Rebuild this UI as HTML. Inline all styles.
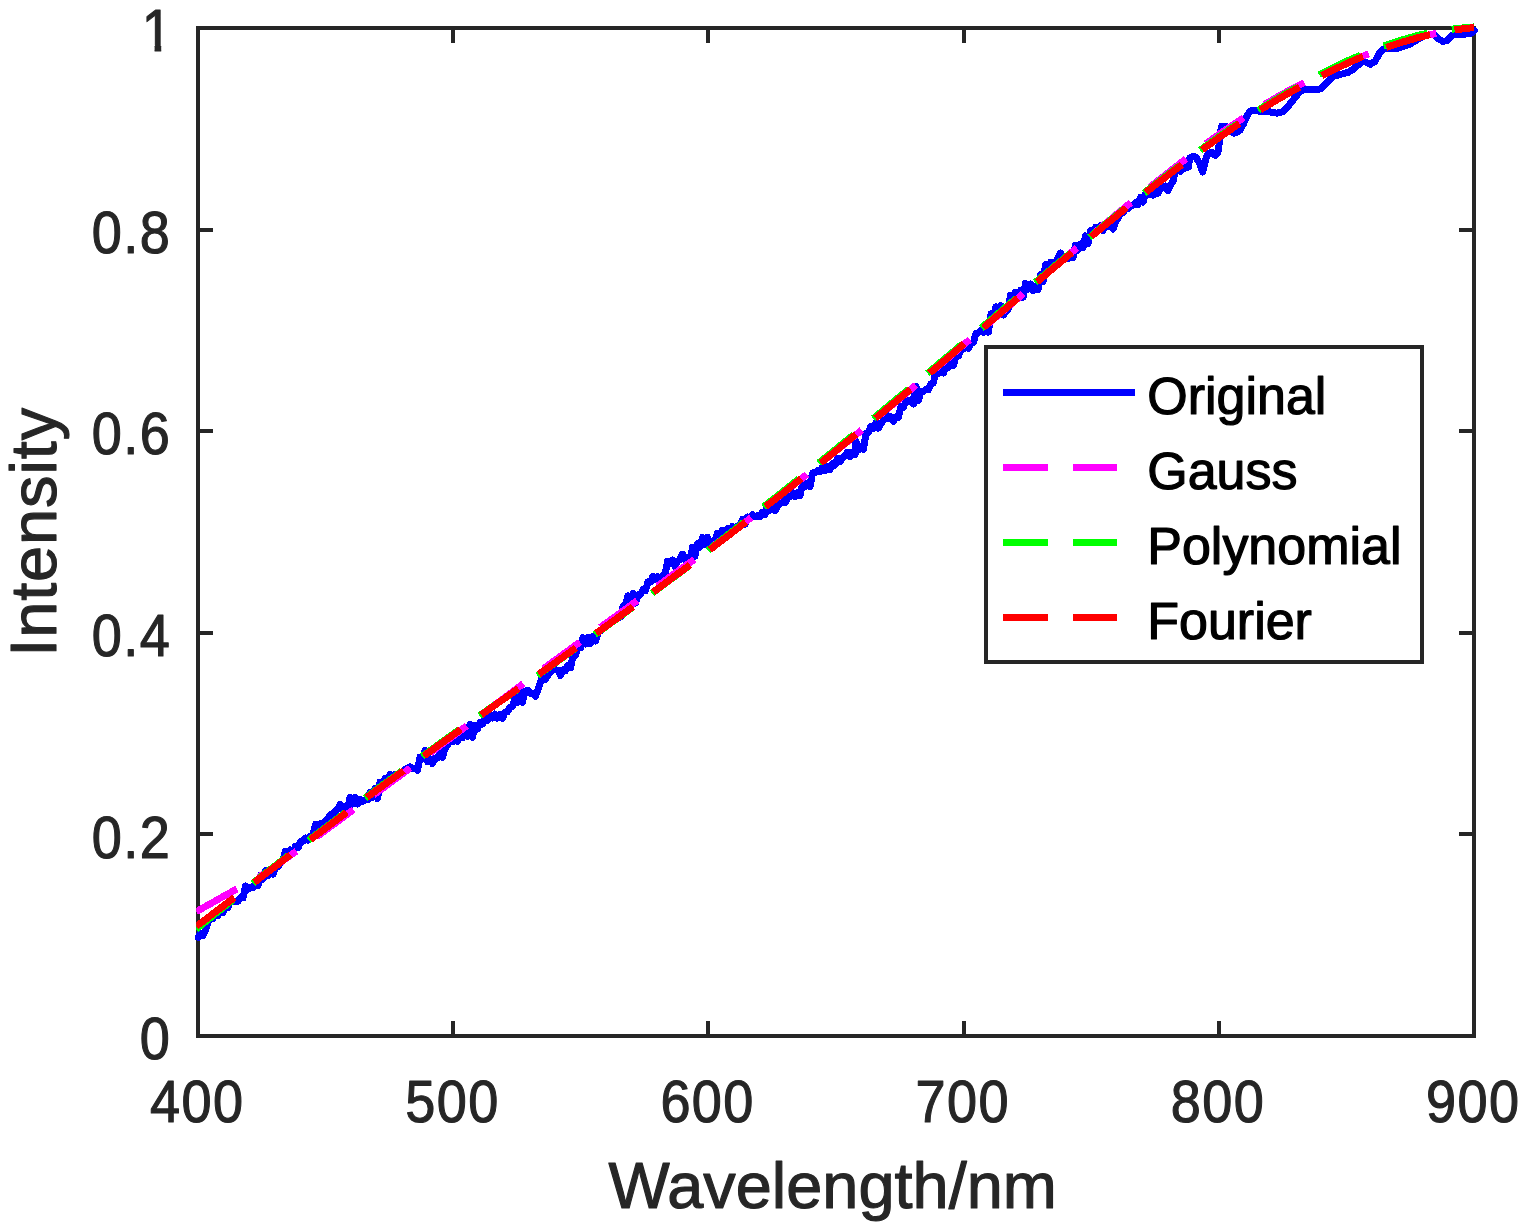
<!DOCTYPE html>
<html lang="en">
<head>
<meta charset="utf-8">
<title>Intensity vs Wavelength</title>
<style>
html,body{margin:0;padding:0;background:#fff;}
body{width:1524px;height:1230px;overflow:hidden;position:relative;font-family:"Liberation Sans",sans-serif;}
</style>
</head>
<body>
<svg width="1524" height="1230" viewBox="0 0 1524 1230" style="position:absolute;left:0;top:0;display:block">
<rect x="0" y="0" width="1524" height="1230" fill="#fff"/>
<g shape-rendering="crispEdges" fill="none" stroke="#262626" stroke-width="4">
<rect x="198.0" y="28.0" width="1276.0" height="1008.0"/>
<path d="M453.2 1036.0 V1021.0 M453.2 28.0 V43.0 M708.4 1036.0 V1021.0 M708.4 28.0 V43.0 M963.6 1036.0 V1021.0 M963.6 28.0 V43.0 M1218.8 1036.0 V1021.0 M1218.8 28.0 V43.0 M198.0 834.4 H213.0 M1474.0 834.4 H1459.0 M198.0 632.8 H213.0 M1474.0 632.8 H1459.0 M198.0 431.2 H213.0 M1474.0 431.2 H1459.0 M198.0 229.6 H213.0 M1474.0 229.6 H1459.0"/>
</g>
<clipPath id="cl"><rect x="196.2" y="0" width="1290" height="1100"/></clipPath>
<clipPath id="clb"><rect x="195" y="0" width="1290" height="1100"/></clipPath>
<g shape-rendering="crispEdges" fill="none" stroke-width="7" stroke-linejoin="round" clip-path="url(#clb)">
<path d="M198.0 937.3 L200.5 933.2 L203.0 935.6 L205.5 930.0 L208.0 922.4 L210.5 916.5 L213.0 918.6 L215.5 912.7 L218.0 915.4 L220.5 910.5 L223.0 912.7 L225.5 906.3 L228.0 907.3 L230.5 901.1 L233.0 901.6 L235.5 901.8 L238.0 901.2 L240.5 897.7 L243.0 898.0 L245.5 886.0 L248.0 889.3 L250.5 887.4 L253.0 887.9 L255.5 883.1 L258.0 885.4 L260.5 875.3 L263.0 879.1 L265.5 870.7 L268.0 875.4 L270.5 870.5 L273.0 874.2 L275.5 867.8 L278.0 866.8 L280.5 862.4 L283.0 860.0 L285.5 851.1 L288.0 854.5 L290.5 849.9 L293.0 852.3 L295.5 846.2 L298.0 847.9 L300.5 841.5 L303.0 841.3 L305.5 838.0 L308.0 840.0 L310.5 836.0 L313.0 835.4 L315.5 824.2 L318.0 827.7 L320.5 823.8 L323.0 828.5 L325.5 821.3 L328.0 819.0 L330.5 814.5 L333.0 818.0 L335.0 811.0 L337.5 809.5 L340.0 804.4 L342.5 808.6 L345.0 806.6 L347.5 808.9 L350.0 797.5 L352.5 804.0 L355.0 797.1 L357.5 804.0 L360.0 799.4 L362.5 801.5 L365.0 799.7 L367.5 800.0 L370.0 792.4 L372.5 797.2 L375.0 788.1 L377.5 798.7 L380.0 782.2 L382.5 784.9 L385.0 778.6 L387.5 780.1 L390.0 774.5 L392.5 778.2 L395.0 774.4 L397.5 774.5 L400.0 773.3 L402.5 771.4 L405.0 769.6 L407.5 768.4 L410.0 766.7 L412.5 768.2 L415.0 768.0 L417.5 770.3 L420.0 757.1 L422.5 758.4 L425.0 750.5 L427.5 761.9 L430.0 758.8 L432.5 763.6 L435.0 758.5 L437.5 758.0 L440.0 753.7 L442.5 757.5 L445.0 748.4 L447.5 745.0 L450.0 739.2 L452.5 741.7 L455.0 738.4 L457.5 741.4 L460.0 735.4 L462.5 737.7 L465.0 732.5 L467.5 736.2 L470.0 724.4 L472.5 737.3 L475.0 725.2 L477.5 728.9 L480.0 722.2 L482.5 723.9 L485.0 718.6 L487.5 720.3 L490.0 714.0 L492.5 718.0 L495.0 714.1 L497.5 718.1 L500.0 714.2 L502.5 718.2 L505.0 712.1 L507.5 711.7 L510.0 707.2 L512.5 706.3 L515.0 698.8 L517.5 702.6 L520.0 689.5 L522.5 702.3 L525.0 691.0 L527.5 690.9 L528.0 690.5 L530.5 693.7 L533.0 693.4 L535.5 696.4 L538.0 689.2 L540.5 682.2 L543.0 675.4 L545.5 679.4 L548.0 675.0 L550.5 672.3 L553.0 666.4 L555.5 669.9 L558.0 670.5 L560.5 675.6 L563.0 669.8 L565.5 670.8 L568.0 665.2 L570.5 667.8 L573.0 655.4 L575.5 655.5 L578.0 646.2 L580.5 647.7 L583.0 637.6 L585.5 644.0 L588.0 637.3 L590.5 643.6 L593.0 636.3 L595.5 640.9 L598.0 632.9 L600.5 630.7 L603.0 628.7 L605.5 626.6 L608.0 624.8 L610.5 623.0 L613.0 621.2 L615.5 620.1 L618.0 614.4 L620.5 616.9 L623.0 606.3 L625.5 604.1 L628.0 595.8 L630.5 597.8 L633.0 593.5 L635.5 603.1 L638.0 594.8 L640.5 594.4 L643.0 589.5 L645.5 590.7 L648.0 581.8 L650.5 582.1 L653.0 576.1 L655.5 579.6 L658.0 576.7 L660.5 580.5 L663.0 575.5 L665.0 574.7 L667.5 561.4 L670.0 563.4 L672.5 560.0 L675.0 566.4 L677.5 561.2 L680.0 559.4 L682.5 554.2 L685.0 559.4 L687.5 557.7 L690.0 563.0 L692.5 547.5 L695.0 556.2 L697.5 543.6 L700.0 547.0 L702.5 537.5 L705.0 544.4 L707.5 537.2 L710.0 543.3 L712.5 541.8 L715.0 540.1 L717.5 533.1 L720.0 535.0 L722.5 530.2 L725.0 533.5 L727.5 528.7 L730.0 531.7 L732.5 526.4 L735.0 529.9 L737.5 525.9 L740.0 525.5 L742.5 519.2 L745.0 524.2 L747.5 517.0 L750.0 518.3 L752.5 514.8 L755.0 517.0 L757.5 515.5 L760.0 516.5 L762.5 512.3 L765.0 514.4 L767.5 504.5 L770.0 510.3 L772.5 506.8 L775.0 510.7 L777.5 505.7 L780.0 503.2 L782.5 498.8 L785.0 502.8 L787.5 498.0 L790.0 496.4 L792.5 492.4 L795.0 496.5 L797.5 492.6 L800.0 495.7 L802.5 484.1 L805.0 486.9 L807.5 483.0 L810.0 486.8 L812.5 473.1 L815.0 472.5 L817.5 470.7 L820.0 471.4 L822.5 467.0 L825.0 470.6 L827.5 466.2 L830.0 469.4 L832.5 463.9 L835.0 465.1 L837.5 458.2 L840.0 461.9 L842.5 457.4 L845.0 455.8 L847.5 452.2 L850.0 456.7 L852.5 452.4 L855.0 454.7 L856.0 441.4 L858.5 449.7 L861.0 446.7 L863.5 449.3 L866.0 433.3 L868.5 432.2 L871.0 426.2 L873.5 428.3 L876.0 422.4 L878.5 428.1 L881.0 423.5 L883.5 420.0 L886.0 413.7 L888.5 418.7 L891.0 417.0 L893.5 421.5 L896.0 416.8 L898.5 417.3 L901.0 406.3 L903.5 407.2 L906.0 400.6 L908.5 401.4 L911.0 399.9 L913.5 403.9 L916.0 386.5 L918.5 400.4 L921.0 391.5 L923.5 391.2 L926.0 389.3 L928.5 389.8 L931.0 383.7 L933.5 382.8 L936.0 369.4 L938.5 373.6 L941.0 369.7 L943.5 372.9 L946.0 367.2 L948.5 367.5 L951.0 363.1 L953.5 365.3 L956.0 356.3 L958.5 356.0 L961.0 347.9 L963.5 349.1 L966.0 345.1 L968.5 348.6 L971.0 343.2 L973.5 342.3 L976.0 333.4 L978.5 332.6 L981.0 330.5 L983.5 332.5 L986.0 328.3 L988.5 332.1 L991.0 313.9 L993.5 317.3 L996.0 306.7 L998.5 309.1 L1001.0 305.7 L1003.5 315.1 L1006.0 311.5 L1008.0 309.6 L1010.5 295.1 L1013.0 296.3 L1015.5 292.3 L1018.0 297.5 L1020.5 290.2 L1023.0 297.4 L1025.5 283.4 L1028.0 289.1 L1030.5 284.0 L1033.0 290.8 L1035.5 286.6 L1038.0 289.5 L1040.5 274.7 L1043.0 281.9 L1045.5 264.6 L1048.0 266.8 L1050.5 262.3 L1053.0 267.9 L1055.5 262.2 L1058.0 258.1 L1060.5 253.0 L1063.0 258.2 L1065.5 257.7 L1068.0 258.4 L1070.5 254.4 L1073.0 257.4 L1075.5 245.3 L1078.0 250.0 L1080.5 244.0 L1083.0 247.6 L1085.5 235.9 L1088.0 243.6 L1090.5 230.8 L1093.0 234.6 L1095.5 227.4 L1098.0 230.6 L1100.5 225.6 L1103.0 230.8 L1105.5 225.3 L1108.0 226.8 L1110.5 225.4 L1113.0 229.0 L1115.5 221.7 L1118.0 218.0 L1120.5 213.1 L1123.0 212.8 L1125.5 209.1 L1128.0 208.9 L1130.5 205.1 L1133.0 205.2 L1135.5 202.7 L1138.0 204.5 L1140.5 197.4 L1143.0 202.1 L1145.5 193.3 L1148.0 194.3 L1150.5 191.3 L1153.0 195.2 L1155.5 190.7 L1158.0 193.3 L1160.5 187.5 L1163.0 188.0 L1165.5 186.1 L1168.0 190.6 L1170.5 184.8 L1173.0 181.6 L1175.5 170.4 L1178.0 169.9 L1180.5 166.3 L1180.5 171.2 L1184.4 168.0 L1188.4 167.3 L1189.7 158.1 L1193.0 156.1 L1196.2 157.5 L1199.5 163.4 L1202.8 171.9 L1206.1 158.1 L1208.1 153.5 L1212.0 152.2 L1215.3 155.5 L1217.9 152.9 L1219.2 143.7 L1220.5 131.9 L1221.8 126.0 L1225.1 126.0 L1228.4 129.2 L1234.3 133.2 L1239.6 130.6 L1243.5 124.0 L1246.8 116.1 L1250.1 110.9 L1255.3 110.6 L1261.9 111.5 L1269.7 111.9 L1277.0 113.2 L1282.9 111.5 L1288.1 106.3 L1293.4 99.7 L1298.6 93.1 L1302.5 89.9 L1309.1 89.2 L1317.0 89.6 L1320.9 88.6 L1327.5 82.0 L1334.0 76.1 L1340.6 74.4 L1348.5 72.2 L1353.7 68.9 L1359.0 64.3 L1362.3 61.0 L1364.3 61.4 L1370.2 64.4 L1374.9 61.4 L1379.6 53.1 L1383.1 49.0 L1386.7 48.7 L1396.1 48.7 L1410.3 43.9 L1422.1 36.9 L1430.4 34.3 L1433.9 34.3 L1438.7 39.0 L1442.8 41.3 L1446.9 40.7 L1451.7 35.4 L1455.2 34.3 L1463.5 34.3 L1471.7 33.1 L1474.3 30.5" stroke="#0000ff" stroke-linecap="round"/>
</g>
<g shape-rendering="crispEdges" fill="none" stroke-width="7" stroke-linejoin="round" clip-path="url(#cl)">
<path d="M196.2 911.7 L198.0 910.7 L203.1 907.8 L208.2 904.9 L213.3 902.1 L218.4 899.2 L223.5 896.4 L228.6 893.5 L233.7 890.6 L238.8 887.9 L243.9 885.3 L249.0 882.8 L254.1 879.9 L259.2 876.8 L264.4 873.5 L269.5 870.1 L274.6 866.6 L279.7 863.0 L284.8 859.3 L289.9 855.7 L295.0 852.1 L300.1 848.6 L305.2 845.1 L310.3 841.5 L315.4 837.7 L320.5 834.0 L325.6 830.2 L330.7 826.4 L335.8 822.7 L340.9 818.9 L346.0 815.1 L351.1 811.4 L356.2 807.7 L361.3 803.9 L366.4 800.2 L371.5 796.5 L376.6 792.8 L381.7 789.0 L386.8 785.3 L392.0 781.5 L397.1 777.7 L402.2 773.9 L407.3 770.1 L412.4 766.2 L417.5 762.4 L422.6 758.6 L427.7 754.8 L432.8 751.1 L437.9 747.3 L443.0 743.5 L448.1 739.7 L453.2 735.9 L458.3 732.2 L463.4 728.4 L468.5 724.5 L473.6 720.7 L478.7 716.9 L483.8 713.1 L488.9 709.3 L494.0 705.5 L499.1 701.7 L504.2 697.9 L509.3 694.1 L514.4 690.3 L519.6 686.5 L524.7 682.7 L529.8 678.9 L534.9 675.1 L540.0 671.2 L545.1 667.5 L550.2 663.7 L555.3 660.0 L560.4 656.3 L565.5 652.6 L570.6 648.9 L575.7 645.2 L580.8 641.5 L585.9 637.8 L591.0 634.1 L596.1 630.4 L601.2 626.7 L606.3 623.1 L611.4 619.4 L616.5 615.7 L621.6 612.0 L626.7 608.3 L631.8 604.6 L636.9 600.9 L642.0 597.2 L647.2 593.5 L652.3 589.8 L657.4 586.1 L662.5 582.4 L667.6 578.6 L672.7 574.9 L677.8 571.2 L682.9 567.6 L688.0 564.0 L693.1 560.4 L698.2 556.7 L703.3 553.1 L708.4 549.4 L713.5 545.7 L718.6 542.0 L723.7 538.2 L728.8 534.5 L733.9 530.7 L739.0 526.9 L744.1 523.0 L749.2 519.1 L754.3 515.2 L759.4 511.3 L764.5 507.4 L769.6 503.5 L774.8 499.6 L779.9 495.6 L785.0 491.6 L790.1 487.6 L795.2 483.6 L800.3 479.6 L805.4 475.6 L810.5 471.5 L815.6 467.4 L820.7 463.4 L825.8 459.3 L830.9 455.1 L836.0 451.0 L841.1 446.9 L846.2 442.7 L851.3 438.6 L856.4 434.4 L861.5 430.2 L866.6 426.1 L871.7 421.9 L876.8 417.6 L881.9 413.4 L887.0 409.2 L892.1 405.0 L897.2 400.7 L902.4 396.5 L907.5 392.2 L912.6 387.9 L917.7 383.6 L922.8 379.3 L927.9 375.0 L933.0 370.7 L938.1 366.4 L943.2 362.1 L948.3 357.8 L953.4 353.5 L958.5 349.1 L963.6 344.8 L968.7 340.5 L973.8 336.1 L978.9 331.8 L984.0 327.4 L989.1 323.0 L994.2 318.7 L999.3 314.3 L1004.4 309.9 L1009.5 305.5 L1014.6 301.1 L1019.7 296.8 L1024.8 292.4 L1030.0 288.0 L1035.1 283.6 L1040.2 279.3 L1045.3 274.9 L1050.4 270.5 L1055.5 266.1 L1060.6 261.8 L1065.7 257.4 L1070.8 253.0 L1075.9 248.6 L1081.0 244.3 L1086.1 239.9 L1091.2 235.6 L1096.3 231.3 L1101.4 227.0 L1106.5 222.7 L1111.6 218.5 L1116.7 214.2 L1121.8 210.0 L1126.9 205.8 L1132.0 201.7 L1137.1 197.5 L1142.2 193.4 L1147.3 189.3 L1152.4 185.2 L1157.6 181.1 L1162.7 177.1 L1167.8 173.1 L1172.9 169.0 L1178.0 165.1 L1183.1 161.1 L1188.2 157.1 L1193.3 153.2 L1198.4 149.4 L1203.5 145.6 L1208.6 141.8 L1213.7 138.1 L1218.8 134.5 L1223.9 131.0 L1229.0 127.4 L1234.1 124.0 L1239.2 120.6 L1244.3 117.2 L1249.4 113.9 L1254.5 110.7 L1259.6 107.5 L1264.7 104.4 L1269.8 101.4 L1274.9 98.4 L1280.0 95.5 L1285.2 92.6 L1290.3 89.8 L1295.4 87.1 L1300.5 84.5 L1305.6 81.9 L1310.7 79.5 L1315.8 77.1 L1320.9 74.8 L1326.0 72.3 L1331.1 69.9 L1336.2 67.6 L1341.3 65.3 L1346.4 63.0 L1351.5 60.8 L1356.6 58.7 L1361.7 56.6 L1366.8 54.6 L1371.9 52.7 L1377.0 50.8 L1382.1 48.9 L1387.2 47.2 L1392.3 45.4 L1397.4 43.7 L1402.5 42.1 L1407.6 40.6 L1412.8 39.1 L1417.9 37.7 L1423.0 36.4 L1428.1 35.1 L1433.2 34.0 L1438.3 32.9 L1443.4 31.9 L1448.5 31.0 L1453.6 30.1 L1458.7 29.4 L1463.8 28.7 L1468.9 28.1 L1474.0 27.6" stroke="#ff00ff" stroke-dasharray="46.7 25 45.5 25 45.5 25 45.5 25 45.5 25 45.5 25 45.5 25 45.5 25 45.5 25 45.5 25 45.5 25 45.5 25 45.5 25 45.5 25 45.5 25 45.5 25 45.5 25 45.5 25 45.5 25 45.5 25 45.5 25 45.5 25 45.5 25 45.5 25"/>
<path d="M196.2 929.2 L198.0 927.7 L203.1 923.6 L208.2 919.5 L213.3 915.4 L218.4 911.3 L223.5 907.3 L228.6 903.2 L233.7 899.1 L238.8 894.9 L243.9 890.5 L249.0 886.3 L254.1 882.2 L259.2 878.1 L264.4 874.0 L269.5 870.0 L274.6 866.1 L279.7 862.2 L284.8 858.3 L289.9 854.4 L295.0 850.5 L300.1 846.7 L305.2 842.8 L310.3 838.9 L315.4 835.1 L320.5 831.2 L325.6 827.4 L330.7 823.6 L335.8 819.8 L340.9 815.9 L346.0 812.1 L351.1 808.3 L356.2 804.6 L361.3 800.8 L366.4 797.0 L371.5 793.2 L376.6 789.5 L381.7 785.7 L386.8 782.0 L392.0 778.3 L397.1 774.5 L402.2 770.8 L407.3 767.1 L412.4 763.4 L417.5 759.7 L422.6 756.0 L427.7 752.3 L432.8 748.7 L437.9 745.0 L443.0 741.3 L448.1 737.6 L453.2 734.0 L458.3 730.4 L463.4 726.8 L468.5 723.2 L473.6 719.7 L478.7 716.2 L483.8 712.6 L488.9 709.1 L494.0 705.6 L499.1 702.2 L504.2 698.6 L509.3 695.1 L514.4 691.6 L519.6 688.1 L524.7 684.5 L529.8 680.9 L534.9 677.3 L540.0 673.7 L545.1 670.1 L550.2 666.5 L555.3 662.9 L560.4 659.3 L565.5 655.6 L570.6 652.0 L575.7 648.3 L580.8 644.7 L585.9 641.0 L591.0 637.4 L596.1 633.7 L601.2 630.0 L606.3 626.4 L611.4 622.7 L616.5 619.0 L621.6 615.3 L626.7 611.6 L631.8 607.9 L636.9 604.2 L642.0 600.5 L647.2 596.7 L652.3 593.0 L657.4 589.3 L662.5 585.5 L667.6 581.7 L672.7 578.0 L677.8 574.2 L682.9 570.4 L688.0 566.5 L693.1 562.5 L698.2 558.4 L703.3 554.3 L708.4 550.2 L713.5 546.1 L718.6 542.1 L723.7 538.1 L728.8 534.1 L733.9 530.1 L739.0 526.1 L744.1 522.1 L749.2 518.1 L754.3 514.1 L759.4 510.1 L764.5 506.0 L769.6 502.0 L774.8 498.0 L779.9 494.0 L785.0 489.9 L790.1 485.9 L795.2 481.8 L800.3 477.8 L805.4 473.7 L810.5 469.6 L815.6 465.5 L820.7 461.4 L825.8 457.3 L830.9 453.2 L836.0 449.1 L841.1 444.9 L846.2 440.8 L851.3 436.6 L856.4 432.4 L861.5 428.2 L866.6 424.0 L871.7 419.8 L876.8 415.6 L881.9 411.4 L887.0 407.1 L892.1 402.9 L897.2 398.6 L902.4 394.4 L907.5 390.1 L912.6 385.8 L917.7 381.5 L922.8 377.3 L927.9 373.0 L933.0 368.7 L938.1 364.4 L943.2 360.1 L948.3 355.8 L953.4 351.5 L958.5 347.2 L963.6 342.8 L968.7 338.5 L973.8 334.2 L978.9 329.9 L984.0 325.6 L989.1 321.3 L994.2 317.0 L999.3 312.6 L1004.4 308.3 L1009.5 304.0 L1014.6 299.7 L1019.7 295.4 L1024.8 291.1 L1030.0 286.8 L1035.1 282.5 L1040.2 278.2 L1045.3 274.0 L1050.4 269.7 L1055.5 265.4 L1060.6 261.2 L1065.7 256.9 L1070.8 252.7 L1075.9 248.5 L1081.0 244.3 L1086.1 240.1 L1091.2 235.9 L1096.3 231.7 L1101.4 227.5 L1106.5 223.4 L1111.6 219.2 L1116.7 215.1 L1121.8 210.9 L1126.9 206.8 L1132.0 202.7 L1137.1 198.6 L1142.2 194.6 L1147.3 190.5 L1152.4 186.5 L1157.6 182.5 L1162.7 178.5 L1167.8 174.6 L1172.9 170.7 L1178.0 166.8 L1183.1 162.9 L1188.2 159.1 L1193.3 155.3 L1198.4 151.5 L1203.5 147.8 L1208.6 144.1 L1213.7 140.4 L1218.8 136.8 L1223.9 133.2 L1229.0 129.7 L1234.1 126.2 L1239.2 122.7 L1244.3 119.3 L1249.4 115.9 L1254.5 112.6 L1259.6 109.4 L1264.7 106.2 L1269.8 103.1 L1274.9 100.0 L1280.0 97.0 L1285.2 94.0 L1290.3 91.1 L1295.4 88.2 L1300.5 85.3 L1305.6 82.3 L1310.7 79.3 L1315.8 76.5 L1320.9 73.8 L1326.0 71.2 L1331.1 68.7 L1336.2 66.2 L1341.3 63.8 L1346.4 61.4 L1351.5 59.1 L1356.6 56.9 L1361.7 54.7 L1366.8 52.6 L1371.9 50.6 L1377.0 48.6 L1382.1 46.7 L1387.2 44.9 L1392.3 43.1 L1397.4 41.4 L1402.5 39.8 L1407.6 38.3 L1412.8 36.8 L1417.9 35.4 L1423.0 34.2 L1428.1 33.1 L1433.2 32.1 L1438.3 31.3 L1443.4 30.5 L1448.5 29.8 L1453.6 29.0 L1458.7 28.4 L1463.8 27.8 L1468.9 27.3 L1474.0 26.9" stroke="#00ff00" stroke-dasharray="47.9 25 45.5 25 45.5 25 45.5 25 45.5 25 45.5 25 45.5 25 45.5 25 45.5 25 45.5 25 45.5 25 45.5 25 45.5 25 45.5 25 45.5 25 45.5 25 45.5 25 45.5 25 45.5 25 45.5 25 45.5 25 45.5 25 45.5 25 45.5 25"/>
<path d="M196.2 926.4 L198.0 925.0 L203.1 921.2 L208.2 917.4 L213.3 913.5 L218.4 909.7 L223.5 905.9 L228.6 902.0 L233.7 898.1 L238.8 894.3 L243.9 890.4 L249.0 886.5 L254.1 882.6 L259.2 878.6 L264.4 874.7 L269.5 870.8 L274.6 866.9 L279.7 863.0 L284.8 859.1 L289.9 855.2 L295.0 851.3 L300.1 847.5 L305.2 843.6 L310.3 839.7 L315.4 835.9 L320.5 832.0 L325.6 828.2 L330.7 824.4 L335.8 820.6 L340.9 816.7 L346.0 812.9 L351.1 809.1 L356.2 805.4 L361.3 801.6 L366.4 797.8 L371.5 794.0 L376.6 790.3 L381.7 786.5 L386.8 782.8 L392.0 779.1 L397.1 775.3 L402.2 771.6 L407.3 767.9 L412.4 764.2 L417.5 760.5 L422.6 756.8 L427.7 753.1 L432.8 749.5 L437.9 745.8 L443.0 742.1 L448.1 738.4 L453.2 734.8 L458.3 731.2 L463.4 727.5 L468.5 723.9 L473.6 720.3 L478.7 716.7 L483.8 713.1 L488.9 709.5 L494.0 705.8 L499.1 702.2 L504.2 698.6 L509.3 695.0 L514.4 691.4 L519.6 687.8 L524.7 684.2 L529.8 680.6 L534.9 677.0 L540.0 673.4 L545.1 669.8 L550.2 666.2 L555.3 662.6 L560.4 659.0 L565.5 655.3 L570.6 651.7 L575.7 648.0 L580.8 644.4 L585.9 640.7 L591.0 637.1 L596.1 633.4 L601.2 629.7 L606.3 626.1 L611.4 622.4 L616.5 618.7 L621.6 615.0 L626.7 611.3 L631.8 607.6 L636.9 603.9 L642.0 600.2 L647.2 596.4 L652.3 592.7 L657.4 589.0 L662.5 585.2 L667.6 581.4 L672.7 577.7 L677.8 573.9 L682.9 570.1 L688.0 566.3 L693.1 562.4 L698.2 558.6 L703.3 554.7 L708.4 550.8 L713.5 546.9 L718.6 543.0 L723.7 539.1 L728.8 535.2 L733.9 531.3 L739.0 527.3 L744.1 523.4 L749.2 519.4 L754.3 515.4 L759.4 511.4 L764.5 507.5 L769.6 503.5 L774.8 499.5 L779.9 495.5 L785.0 491.5 L790.1 487.5 L795.2 483.4 L800.3 479.4 L805.4 475.3 L810.5 471.2 L815.6 467.1 L820.7 463.0 L825.8 458.9 L830.9 454.8 L836.0 450.7 L841.1 446.5 L846.2 442.4 L851.3 438.2 L856.4 434.0 L861.5 429.8 L866.6 425.6 L871.7 421.4 L876.8 417.2 L881.9 413.0 L887.0 408.7 L892.1 404.5 L897.2 400.2 L902.4 396.0 L907.5 391.7 L912.6 387.4 L917.7 383.1 L922.8 378.9 L927.9 374.6 L933.0 370.2 L938.1 365.9 L943.2 361.6 L948.3 357.3 L953.4 353.0 L958.5 348.6 L963.6 344.3 L968.7 340.0 L973.8 335.6 L978.9 331.3 L984.0 327.0 L989.1 322.6 L994.2 318.3 L999.3 313.9 L1004.4 309.6 L1009.5 305.2 L1014.6 300.9 L1019.7 296.6 L1024.8 292.2 L1030.0 287.9 L1035.1 283.6 L1040.2 279.3 L1045.3 275.0 L1050.4 270.6 L1055.5 266.3 L1060.6 262.1 L1065.7 257.8 L1070.8 253.5 L1075.9 249.3 L1081.0 245.0 L1086.1 240.8 L1091.2 236.5 L1096.3 232.3 L1101.4 228.1 L1106.5 224.0 L1111.6 219.8 L1116.7 215.7 L1121.8 211.5 L1126.9 207.4 L1132.0 203.3 L1137.1 199.3 L1142.2 195.2 L1147.3 191.2 L1152.4 187.2 L1157.6 183.2 L1162.7 179.3 L1167.8 175.4 L1172.9 171.5 L1178.0 167.6 L1183.1 163.8 L1188.2 160.0 L1193.3 156.2 L1198.4 152.4 L1203.5 148.7 L1208.6 145.1 L1213.7 141.4 L1218.8 137.8 L1223.9 134.2 L1229.0 130.7 L1234.1 127.2 L1239.2 123.8 L1244.3 120.4 L1249.4 117.0 L1254.5 113.7 L1259.6 110.4 L1264.7 107.3 L1269.8 104.2 L1274.9 101.1 L1280.0 98.1 L1285.2 95.1 L1290.3 92.2 L1295.4 89.4 L1300.5 86.6 L1305.6 83.9 L1310.7 81.3 L1315.8 78.7 L1320.9 76.1 L1326.0 73.5 L1331.1 71.0 L1336.2 68.5 L1341.3 66.1 L1346.4 63.7 L1351.5 61.4 L1356.6 59.2 L1361.7 57.0 L1366.8 54.9 L1371.9 52.9 L1377.0 50.9 L1382.1 49.0 L1387.2 47.2 L1392.3 45.4 L1397.4 43.7 L1402.5 42.1 L1407.6 40.6 L1412.8 39.1 L1417.9 37.7 L1423.0 36.4 L1428.1 35.1 L1433.2 34.0 L1438.3 32.9 L1443.4 31.9 L1448.5 31.0 L1453.6 30.1 L1458.7 29.4 L1463.8 28.7 L1468.9 28.1 L1474.0 27.6" stroke="#ff0000" stroke-dasharray="47.9 25 45.5 25 45.5 25 45.5 25 45.5 25 45.5 25 45.5 25 45.5 25 45.5 25 45.5 25 45.5 25 45.5 25 45.5 25 45.5 25 45.5 25 45.5 25 45.5 25 45.5 25 45.5 25 45.5 25 45.5 25 45.5 25 45.5 25 45.5 25"/>
</g>
<g font-family="&quot;Liberation Sans&quot;, sans-serif">
<text transform="translate(197.20 1121.60) scale(0.925 1.0)" font-size="58.5" text-anchor="middle" letter-spacing="1.5" fill="#262626" stroke="#262626" stroke-width="1.1" stroke-linejoin="round">400</text>
<text transform="translate(452.40 1121.60) scale(0.925 1.0)" font-size="58.5" text-anchor="middle" letter-spacing="1.5" fill="#262626" stroke="#262626" stroke-width="1.1" stroke-linejoin="round">500</text>
<text transform="translate(707.60 1121.60) scale(0.925 1.0)" font-size="58.5" text-anchor="middle" letter-spacing="1.5" fill="#262626" stroke="#262626" stroke-width="1.1" stroke-linejoin="round">600</text>
<text transform="translate(962.80 1121.60) scale(0.925 1.0)" font-size="58.5" text-anchor="middle" letter-spacing="1.5" fill="#262626" stroke="#262626" stroke-width="1.1" stroke-linejoin="round">700</text>
<text transform="translate(1218.00 1121.60) scale(0.925 1.0)" font-size="58.5" text-anchor="middle" letter-spacing="1.5" fill="#262626" stroke="#262626" stroke-width="1.1" stroke-linejoin="round">800</text>
<text transform="translate(1473.20 1121.60) scale(0.925 1.0)" font-size="58.5" text-anchor="middle" letter-spacing="1.5" fill="#262626" stroke="#262626" stroke-width="1.1" stroke-linejoin="round">900</text>
<text transform="translate(171.20 1059.10) scale(0.925 1.0)" font-size="58.5" text-anchor="end" letter-spacing="1.5" fill="#262626" stroke="#262626" stroke-width="1.1" stroke-linejoin="round">0</text>
<text transform="translate(171.20 857.50) scale(0.925 1.0)" font-size="58.5" text-anchor="end" letter-spacing="1.5" fill="#262626" stroke="#262626" stroke-width="1.1" stroke-linejoin="round">0.2</text>
<text transform="translate(171.20 655.90) scale(0.925 1.0)" font-size="58.5" text-anchor="end" letter-spacing="1.5" fill="#262626" stroke="#262626" stroke-width="1.1" stroke-linejoin="round">0.4</text>
<text transform="translate(171.20 454.30) scale(0.925 1.0)" font-size="58.5" text-anchor="end" letter-spacing="1.5" fill="#262626" stroke="#262626" stroke-width="1.1" stroke-linejoin="round">0.6</text>
<text transform="translate(171.20 252.70) scale(0.925 1.0)" font-size="58.5" text-anchor="end" letter-spacing="1.5" fill="#262626" stroke="#262626" stroke-width="1.1" stroke-linejoin="round">0.8</text>
<clipPath id="c1"><rect x="138" y="0" width="40" height="45"/><rect x="154.6" y="44.9" width="6.6" height="9"/></clipPath>
<g clip-path="url(#c1)"><text transform="translate(173.30 51.10) scale(0.925 1.0)" font-size="58.5" text-anchor="end" letter-spacing="1.5" fill="#262626" stroke="#262626" stroke-width="1.1" stroke-linejoin="round">1</text></g>
<text transform="translate(832.60 1208.30)" font-size="64.9" text-anchor="middle" fill="#262626" stroke="#262626" stroke-width="1.1" stroke-linejoin="round">Wavelength/nm</text>
<text transform="translate(56.30 531.90) rotate(-90)" font-size="64.9" text-anchor="middle" letter-spacing="0.9" fill="#262626" stroke="#262626" stroke-width="1.1" stroke-linejoin="round">Intensity</text>
</g>
<rect x="986.3" y="346.8" width="435.7" height="314.8" fill="#fff" stroke="#262626" stroke-width="4" shape-rendering="crispEdges"/>
<g shape-rendering="crispEdges" fill="none" stroke-width="7">
<path d="M1003 392.4 H1135" stroke="#0000ff"/>
<path d="M1003 467.3 H1048 M1073 467.3 H1117" stroke="#ff00ff"/>
<path d="M1003 542.1 H1048 M1073 542.1 H1117" stroke="#00ff00"/>
<path d="M1003 617.2 H1048 M1073 617.2 H1117" stroke="#ff0000"/>
</g>
<g font-family="&quot;Liberation Sans&quot;, sans-serif">
<text transform="translate(1147.30 413.80) scale(0.99 1.0)" font-size="52.5" text-anchor="start" fill="#000" stroke="#000" stroke-width="1.2" stroke-linejoin="round">Original</text>
<text transform="translate(1147.30 488.70) scale(0.99 1.0)" font-size="52.5" text-anchor="start" fill="#000" stroke="#000" stroke-width="1.2" stroke-linejoin="round">Gauss</text>
<text transform="translate(1147.30 563.50) scale(0.99 1.0)" font-size="52.5" text-anchor="start" fill="#000" stroke="#000" stroke-width="1.2" stroke-linejoin="round">Polynomial</text>
<text transform="translate(1147.30 638.60) scale(0.99 1.0)" font-size="52.5" text-anchor="start" fill="#000" stroke="#000" stroke-width="1.2" stroke-linejoin="round">Fourier</text>
</g>
</svg>
</body>
</html>
